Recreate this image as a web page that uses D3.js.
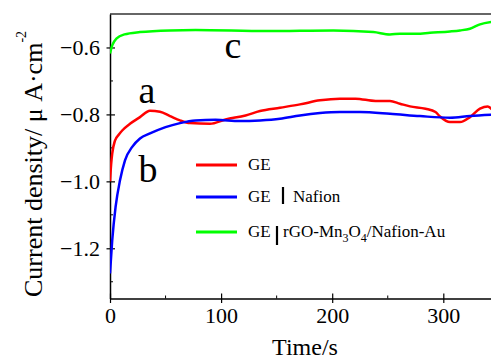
<!DOCTYPE html>
<html>
<head>
<meta charset="utf-8">
<script src="https://cdn.jsdelivr.net/npm/d3@7"></script>
<style>
  body { margin: 0; background: #fff; }
  text { font-family: "Liberation Serif", "Times New Roman", Times, serif; }
</style>
</head>
<body>
<svg id="chart" width="491" height="360"></svg>
<script>
// data
const tA = [0, 1, 2, 4.5, 8, 11, 18, 27, 36, 45, 54, 63, 72, 90, 104, 122, 135, 153, 171, 189, 207, 221, 239, 252, 261, 270, 284, 293, 297, 306, 315, 324, 333, 340, 345];
const vA = [-1.0, -0.95, -0.917, -0.878, -0.86, -0.848, -0.828, -0.808, -0.789, -0.792, -0.805, -0.818, -0.826, -0.828, -0.815, -0.803, -0.79, -0.78, -0.77, -0.758, -0.753, -0.753, -0.76, -0.76, -0.768, -0.776, -0.783, -0.793, -0.806, -0.823, -0.823, -0.808, -0.783, -0.776, -0.79];

const tB = [0, 2, 5, 9, 13.5, 20, 27, 36, 50, 63, 77, 95, 117, 135, 153, 171, 189, 207, 225, 252, 279, 306, 324, 345];
const vB = [-1.275, -1.176, -1.077, -0.997, -0.937, -0.897, -0.872, -0.857, -0.838, -0.826, -0.818, -0.816, -0.82, -0.818, -0.813, -0.803, -0.796, -0.793, -0.793, -0.798, -0.805, -0.81, -0.805, -0.801];

const tC = [0, 2, 6, 13, 27, 54, 77, 141, 201, 237, 252, 261, 276, 288, 306, 315, 324, 333, 345];
const vC = [-0.618, -0.594, -0.573, -0.561, -0.554, -0.549, -0.548, -0.551, -0.549, -0.554, -0.561, -0.559, -0.559, -0.556, -0.552, -0.549, -0.544, -0.531, -0.523];

const xTicks = [0, 100, 200, 300];
const xMinor = [50, 150, 250];
const yTicks = [-0.6, -0.8, -1.0, -1.2];
const yMinor = [-0.7, -0.9, -1.1, -1.3];

const series = [
  { t: tA, v: vA, color: "#ff0000", name: "a" },
  { t: tB, v: vB, color: "#0000ff", name: "b" },
  { t: tC, v: vC, color: "#00ff00", name: "c" },
];

const FONT = "Liberation Serif";

const svg = d3.select("#chart");

const x = d3.scaleLinear().domain([0, 345]).range([110, 493.3]);
const y = d3.scaleLinear().domain([-1.35, -0.5]).range([298.5, 14]);

svg.append("clipPath").attr("id", "plot")
  .append("rect").attr("x", 110).attr("y", 14).attr("width", 390).attr("height", 285);

// top spine
svg.append("line")
  .attr("x1", 110).attr("x2", 491).attr("y1", 14).attr("y2", 14)
  .attr("stroke", "#333").attr("stroke-width", 1.5);

// x axis
const gx = svg.append("g")
  .attr("transform", "translate(0,298.5)")
  .call(d3.axisBottom(x).tickValues(xTicks).tickFormat(d3.format("d")).tickSizeOuter(0).tickSize(0).tickPadding(9));
gx.attr("font-family", FONT);
gx.select(".domain").attr("stroke", "#000").attr("stroke-width", 1.5);
gx.selectAll(".tick line").attr("y1", 4.5).attr("y2", -5).attr("stroke", "#000").attr("stroke-width", 1.2);
gx.selectAll(".tick text").attr("font-size", 22).attr("fill", "#000").attr("dy", "0.72em");
gx.selectAll(".minor").data(xMinor).join("line")
  .attr("x1", (d) => x(d)).attr("x2", (d) => x(d)).attr("y1", 0).attr("y2", -3)
  .attr("stroke", "#000").attr("stroke-width", 1);

// y axis
const gy = svg.append("g")
  .attr("transform", "translate(110,0)")
  .call(d3.axisLeft(y).tickValues(yTicks).tickFormat(d3.format(".1f")).tickSizeOuter(0).tickSize(0).tickPadding(10));
gy.attr("font-family", FONT);
gy.select(".domain").attr("stroke", "#000").attr("stroke-width", 1.5);
gy.selectAll(".tick line").attr("x1", -3.5).attr("x2", 5).attr("stroke", "#000").attr("stroke-width", 1.2);
gy.selectAll(".tick text").attr("font-size", 22).attr("fill", "#000");
gy.selectAll(".minor").data(yMinor).join("line")
  .attr("y1", (d) => y(d)).attr("y2", (d) => y(d)).attr("x1", 0).attr("x2", 3)
  .attr("stroke", "#000").attr("stroke-width", 1);

// curves
const line = d3.line()
  .x((d) => x(d[0]))
  .y((d) => y(d[1]))
  .curve(d3.curveMonotoneX);

svg.append("g").attr("clip-path", "url(#plot)")
  .selectAll("path")
  .data(series)
  .join("path")
  .attr("d", (s) => line(s.t.map((t, i) => [t, s.v[i]])))
  .attr("fill", "none")
  .attr("stroke", (s) => s.color)
  .attr("stroke-width", 2.5);

// curve letters
const letters = [
  { text: "a", x: 147, y: 103 },
  { text: "b", x: 148, y: 182 },
  { text: "c", x: 233, y: 58 },
];
svg.selectAll("text.letter")
  .data(letters)
  .join("text")
  .attr("class", "letter")
  .attr("x", (d) => d.x)
  .attr("y", (d) => d.y)
  .attr("text-anchor", "middle")
  .attr("font-family", FONT)
  .attr("font-size", 38)
  .text((d) => d.text);

// axis titles
svg.append("text")
  .attr("x", 305).attr("y", 355)
  .attr("text-anchor", "middle")
  .attr("font-family", FONT)
  .attr("font-size", 24)
  .text("Time/s");

const yTitle = svg.append("text")
  .attr("transform", "translate(42,297) rotate(-90)")
  .attr("font-family", FONT)
  .attr("font-size", 26);
yTitle.append("tspan").text("Current density/ μ A·cm");
yTitle.append("tspan").attr("font-size", 14).attr("dy", -16).text("-2");

// legend
const legend = svg.append("g").attr("font-family", FONT).attr("font-size", 17);
const legendY = [165, 197, 232];
series.forEach((s, i) => {
  legend.append("line")
    .attr("x1", 196).attr("x2", 237)
    .attr("y1", legendY[i]).attr("y2", legendY[i])
    .attr("stroke", s.color).attr("stroke-width", 3);
});

legend.append("text").attr("x", 248).attr("y", 170).text("GE");

legend.append("text").attr("x", 248).attr("y", 202).text("GE");
legend.append("line").attr("x1", 283).attr("x2", 283).attr("y1", 187).attr("y2", 204)
  .attr("stroke", "#000").attr("stroke-width", 2.2);
legend.append("text").attr("x", 293).attr("y", 202).text("Nafion");

legend.append("text").attr("x", 248).attr("y", 237).text("GE");
legend.append("line").attr("x1", 277).attr("x2", 277).attr("y1", 226).attr("y2", 245)
  .attr("stroke", "#000").attr("stroke-width", 2.2);
const t3 = legend.append("text").attr("x", 283).attr("y", 237);
t3.append("tspan").text("rGO-Mn");
t3.append("tspan").attr("font-size", 12).attr("dy", 5).text("3");
t3.append("tspan").attr("dy", -5).text("O");
t3.append("tspan").attr("font-size", 12).attr("dy", 5).text("4");
t3.append("tspan").attr("dy", -5).text("/Nafion-Au");
</script>
</body>
</html>
